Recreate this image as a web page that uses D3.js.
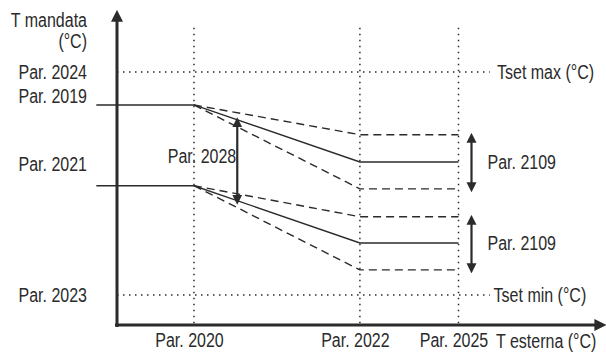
<!DOCTYPE html>
<html><head><meta charset="utf-8">
<script src="https://cdn.jsdelivr.net/npm/d3@7"></script>
<style>
body{margin:0;background:#fff;}
text{font-family:"Liberation Sans",Arial,sans-serif;font-size:20px;fill:#2b2b2b;}
</style></head><body>
<svg id="c" width="606" height="354"></svg>
<script>
// ---- data ----
const xTickLabels = ["Par. 2020", "Par. 2022", "Par. 2025"];
const xTickValues = [16, 50.5, 71];
const xStart = -4.3;
const yTickLabels = ["Par. 2024", "Par. 2019", "Par. 2021", "Par. 2023"];
const yTickValues = [80.7, 73.0, 51.3, 9.4];
const tsetMax = 80.8;
const tsetMin = 9.6;
const upperSolid = [70.3, 52.1];
const upperDashHigh = [70.3, 60.8];
const upperDashLow = [70.3, 43.5];
const lowerSolid = [44.5, 26.2];
const lowerDashHigh = [44.5, 34.6];
const lowerDashLow = [44.5, 17.6];
const span2028X = 25;
const labels = {yTitle1:"T mandata", yTitle2:"(°C)", xTitle:"T esterna (°C)", tmax:"Tset max (°C)", tmin:"Tset min (°C)", p2028:"Par. 2028", p2109:"Par. 2109"};

// ---- scales ----
const svg = d3.select("#c");
const x = d3.scaleLinear().domain([0, 100]).range([117, 598]);
const y = d3.scaleLinear().domain([0, 100]).range([325, 12]);
const ink = "#2b2b2b";

const defs = svg.append("defs");
defs.append("marker").attr("id","ah").attr("viewBox","0 0 10 10").attr("refX",5).attr("refY",5)
  .attr("markerWidth",10).attr("markerHeight",11).attr("markerUnits","userSpaceOnUse").attr("orient","auto-start-reverse")
  .append("path").attr("d","M0,0 L10,5 L0,10 z").attr("fill",ink);
defs.append("marker").attr("id","ax").attr("viewBox","0 0 10 10").attr("refX",3).attr("refY",5)
  .attr("markerWidth",12).attr("markerHeight",12).attr("markerUnits","userSpaceOnUse").attr("orient","auto")
  .append("path").attr("d","M0,0 L10,5 L0,10 z").attr("fill",ink);

// ---- dotted guides ----
const dot = sel => sel.attr("stroke",ink).attr("stroke-width",1.5).attr("stroke-dasharray","1.5,4.5").attr("fill","none");
xTickValues.forEach(v => {
  svg.append("line").attr("x1",x(v)).attr("x2",x(v)).attr("y1",y(95)).attr("y2",y(0)).call(dot);
});
[tsetMax, tsetMin].forEach(v => {
  svg.append("line").attr("x1",x(0)).attr("x2",x(77.5)).attr("y1",y(v)).attr("y2",y(v)).call(dot);
});

// ---- curves ----
function curve(vals, dashed, startX){
  const pts = [[startX, vals[0]], [xTickValues[0], vals[0]], [xTickValues[1], vals[1]], [xTickValues[2], vals[1]]];
  svg.append("path").attr("d", d3.line().x(d=>x(d[0])).y(d=>y(d[1]))(pts))
    .attr("fill","none").attr("stroke",ink).attr("stroke-width",1.4)
    .attr("stroke-dasharray", dashed ? "8,5" : null);
}
curve(upperSolid, false, xStart);
curve(lowerSolid, false, xStart);
[upperDashHigh, upperDashLow, lowerDashHigh, lowerDashLow].forEach(v => curve(v, true, xTickValues[0]));

// ---- axes ----
const xAxis = svg.append("g").attr("transform",`translate(0,${y(0)})`)
  .call(d3.axisBottom(x).tickValues(xTickValues).tickFormat((d,i)=>xTickLabels[i]).tickSize(0).tickSizeOuter(0).tickPadding(8));
xAxis.select(".domain").attr("stroke",ink).attr("stroke-width",3).attr("d",`M${x(0)-2},0H${x(100)}`).attr("marker-end","url(#ax)");
xAxis.selectAll("text").style("font-size","20px").style("font-family",null).attr("fill",ink).attr("x",-5);

const yAxis = svg.append("g").attr("transform",`translate(${x(0)},0)`)
  .call(d3.axisLeft(y).tickValues(yTickValues).tickFormat((d,i)=>yTickLabels[i]).tickSize(0).tickSizeOuter(0).tickPadding(30));
yAxis.select(".domain").attr("stroke",ink).attr("stroke-width",3).attr("d",`M0,${y(0)+2}V${y(98)}`).attr("marker-end","url(#ax)");
yAxis.selectAll("text").style("font-size","20px").style("font-family",null).attr("fill",ink);

// ---- titles ----
svg.append("text").attr("x",x(0)-30).attr("y",27).attr("text-anchor","end").text(labels.yTitle1);
svg.append("text").attr("x",x(0)-30).attr("y",48).attr("text-anchor","end").text(labels.yTitle2);
svg.append("text").attr("x",x(78.8)).attr("y",y(0)+23).attr("text-anchor","start").text(labels.xTitle);
svg.append("text").attr("x",x(79)).attr("y",y(tsetMax)+7).text(labels.tmax);
svg.append("text").attr("x",x(78.3)).attr("y",y(tsetMin)+7).text(labels.tmin);

// ---- double arrows ----
function darrow(xv, v1, v2){
  svg.append("line").attr("x1",x(xv)).attr("x2",x(xv)).attr("y1",y(v1)).attr("y2",y(v2))
    .attr("stroke",ink).attr("stroke-width",2.2).attr("marker-start","url(#ah)").attr("marker-end","url(#ah)");
}
const fr = (span2028X - xTickValues[0])/(xTickValues[1]-xTickValues[0]);
const at = v => v[0] + (v[1]-v[0])*fr;
darrow(span2028X, at(upperSolid)-0.8, at(lowerSolid)+0.3);
svg.append("text").attr("x",x(span2028X)-1).attr("y",(y(at(upperSolid))+y(at(lowerSolid)))/2+3).attr("text-anchor","end").text(labels.p2028);

const ax2 = 73.7;
darrow(ax2, upperDashHigh[1]-1, upperDashLow[1]+0.5);
darrow(ax2, lowerDashHigh[1]-1, lowerDashLow[1]+0.5);
svg.append("text").attr("x",x(ax2)+16).attr("y",y(upperSolid[1])+7).text(labels.p2109);
svg.append("text").attr("x",x(ax2)+16).attr("y",y(lowerSolid[1])+7).text(labels.p2109);

// ---- condense all text horizontally about its anchor (narrow typeface look) ----
svg.selectAll("text").each(function(){
  const ax = +(this.getAttribute("x") || 0);
  d3.select(this).attr("transform", `translate(${ax},0) scale(0.8,1) translate(${-ax},0)`);
});
</script></body></html>
